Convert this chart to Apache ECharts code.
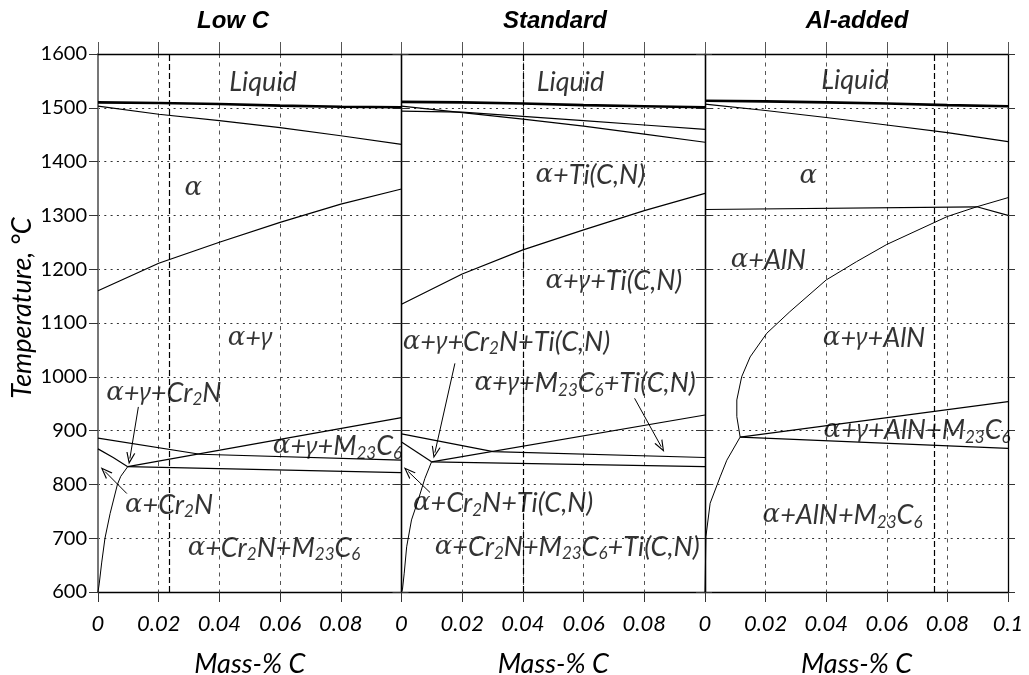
<!DOCTYPE html>
<html><head><meta charset="utf-8">
<script src="https://cdn.jsdelivr.net/npm/echarts@6/dist/echarts.min.js"></script>
<style>html,body{margin:0;padding:0;background:#fff}#c{width:1029px;height:675px}</style>
</head><body><div id="c"></div>
<script>
// ---------- text ----------
const panelTitles = ['Low C', 'Standard', 'Al-added'];
const xAxisName = 'Mass-% C';
const yAxisName = 'Temperature, °C';
const xMin = 0, xMax = 0.1, xStep = 0.02;
const yMin = 600, yMax = 1600, yStep = 100;

// ---------- Low C ----------
const lowC_liquidus = [[0,1510],[0.02,1509],[0.04,1507],[0.06,1504],[0.08,1502],[0.1,1501]];
const lowC_solidus = [[0,1503],[0.02,1488],[0.04,1476],[0.06,1463],[0.08,1448],[0.1,1432]];
const lowC_gamma = [[0,1160],[0.02,1211],[0.04,1250],[0.06,1287],[0.08,1321],[0.1,1349]];
const lowC_cr2nUpper = [[0,886],[0.0336,856],[0.1,845]];
const lowC_m23Upper = [[0.0098,833],[0.1,924]];
const lowC_bottom = [[0.0098,833],[0.1,822]];
const lowC_cr2nLeft = [[0,866],[0.005,850],[0.0098,833]];
const lowC_alphaCr2n = [[0.0098,833],[0.0075,815],[0.0064,800],[0.004,746],[0.0023,700],[0.0012,654],[0.0004,615],[0,600]];
const lowC_composition = 0.0234;
const lowC_labels = [
  [0.0544,1548,'Liquid'],
  [0.0314,1350,'α'],
  [0.0501,1072,'α+γ'],
  [0.0217,970,'α+γ+Cr_2N'],
  [0.0789,870,'α+γ+M_23C_6'],
  [0.0234,762,'α+Cr_2N'],
  [0.058,682,'α+Cr_2N+M_23C_6']
];
const lowC_arrows = [
  [[0.0133,944],[0.0105,848]],
  [[0.0095,783],[0.0023,824]]
];

// ---------- Standard ----------
const std_liquidus = [[0,1511],[0.02,1510],[0.04,1508],[0.06,1505],[0.08,1503],[0.1,1501]];
const std_solidusA = [[0,1503],[0.02,1491],[0.04,1479],[0.06,1466],[0.08,1451],[0.1,1436]];
const std_solidusB = [[0,1494],[0.02,1492],[0.04,1484],[0.06,1476],[0.08,1468],[0.1,1460]];
const std_gamma = [[0,1135],[0.02,1191],[0.04,1236],[0.06,1273],[0.08,1309],[0.1,1341]];
const std_cr2nUpper = [[0,894],[0.0302,861],[0.1,850]];
const std_m23Upper = [[0.0099,842],[0.1,929]];
const std_bottom = [[0.0099,842],[0.1,833]];
const std_cr2nLeft = [[0,879],[0.0099,842]];
const std_alphaCr2n = [[0.0099,842],[0.0077,811],[0.0055,771],[0.0033,734],[0.0017,684],[0.0009,635],[0.0003,604],[0,600]];
const std_composition = 0.04;
const std_labels = [
  [0.0557,1548,'Liquid'],
  [0.0622,1375,'α+Ti(C,N)'],
  [0.07,1177,'α+γ+Ti(C,N)'],
  [0.0346,1065,'α+γ+Cr_2N+Ti(C,N)'],
  [0.0605,988,'α+γ+M_23C_6+Ti(C,N)'],
  [0.0335,765,'α+Cr_2N+Ti(C,N)'],
  [0.0546,684,'α+Cr_2N+M_23C_6+Ti(C,N)']
];
const std_arrows = [
  [[0.0176,1025],[0.011,859]],
  [[0.0768,960],[0.0856,870]],
  [[0.0094,785],[0.0022,824]]
];

// ---------- Al-added ----------
const al_liquidus = [[0,1513],[0.02,1512],[0.04,1510],[0.06,1508],[0.08,1505],[0.1,1503]];
const al_solidus = [[0,1507],[0.02,1495],[0.04,1482],[0.06,1468],[0.08,1454],[0.1,1437]];
const al_alnLine = [[0,1311],[0.0897,1316],[0.1,1300]];
const al_gammaCurve = [[0.1,1333],[0.0897,1316],[0.08,1298],[0.06,1246],[0.05,1214],[0.04,1180],[0.028,1121],[0.0204,1081],[0.0149,1037],[0.0121,1000],[0.0105,957],[0.0105,926],[0.0116,888],[0.0072,845],[0.005,814],[0.0017,765],[0.0003,703],[0,600]];
const al_m23Upper = [[0.0116,888],[0.1,954]];
const al_m23Lower = [[0.0116,888],[0.1,867]];
const al_composition = 0.0758;
const al_labels = [
  [0.0495,1552,'Liquid'],
  [0.0341,1372,'α'],
  [0.0209,1217,'α+AlN'],
  [0.0558,1072,'α+γ+AlN'],
  [0.07,901,'α+γ+AlN+M_23C_6'],
  [0.0454,743,'α+AlN+M_23C_6']
];
const al_arrows = [];

// ---------- layout / style ----------
const LBL = 27;
const INK = '#000';
const panels = [
  {left:98, width:303.5, titleX:233, lastLabel:false,
   lines:[[lowC_liquidus,2.6],[lowC_solidus,1.2],[lowC_gamma,1.2],[lowC_cr2nUpper,1.2],[lowC_m23Upper,1.2],[lowC_bottom,1.2],[lowC_cr2nLeft,1.2],[lowC_alphaCr2n,1]],
   comp:lowC_composition, labels:lowC_labels, arrows:lowC_arrows},
  {left:401.5, width:303.5, titleX:555, lastLabel:false,
   lines:[[std_liquidus,2.6],[std_solidusA,1.2],[std_solidusB,1.2],[std_gamma,1.2],[std_cr2nUpper,1.2],[std_m23Upper,1.2],[std_bottom,1.2],[std_cr2nLeft,1.2],[std_alphaCr2n,1]],
   comp:std_composition, labels:std_labels, arrows:std_arrows},
  {left:705, width:303, titleX:857, lastLabel:true,
   lines:[[al_liquidus,2.6],[al_solidus,1.2],[al_alnLine,1.2],[al_gammaCurve,1],[al_m23Upper,1.2],[al_m23Lower,1.2]],
   comp:al_composition, labels:al_labels, arrows:al_arrows}
];
const TOP = 54, HEIGHT = 538;

const rich = {
  nm:{fontFamily:'Lato', fontStyle:'italic', fontSize:LBL, color:INK},
  al:{fontFamily:'DejaVu Serif', fontStyle:'italic', fontSize:LBL-1, color:INK},
  ga:{fontFamily:'Noto Sans', fontStyle:'italic', fontSize:LBL-3, color:INK},
  sb:{fontFamily:'Lato', fontStyle:'italic', fontSize:Math.round(LBL*0.64), color:INK, padding:[Math.round(LBL*0.5),0,0,0]}
};
function toRich(s){
  let out='', buf='';
  const flush=()=>{ if(buf){ out+='{nm|'+buf+'}'; buf=''; } };
  for(let i=0;i<s.length;i++){
    const ch=s[i];
    if(ch==='_'){ flush(); let d=''; i++; while(i<s.length && /[0-9]/.test(s[i])){ d+=s[i]; i++; } i--; out+='{sb|'+d+'}'; }
    else if(ch==='α'){ flush(); out+='{al|α}'; }
    else if(ch==='γ'){ flush(); out+='{ga|γ}'; }
    else buf+=ch;
  }
  flush();
  return out;
}
function fmtX(v){ const r=Math.round(v*100)/100; return r===0?'0':String(r); }
const ARROW = 'path://M0,12 L5,0 L10,12 L8.7,12 L5,3.2 L1.3,12 Z';

const grids=[], xAxes=[], yAxes=[], series=[], graphics=[];
panels.forEach((p,g)=>{
  grids.push({left:p.left, top:TOP, width:p.width, height:HEIGHT, containLabel:false, outerBoundsMode:'none'});
  xAxes.push({type:'value', gridIndex:g, min:xMin, max:xMax, interval:xStep, position:'bottom',
    axisLine:{show:true, onZero:false, lineStyle:{color:'#000', width:1.3}},
    axisTick:{show:true, inside:false, length:10, lineStyle:{color:'#333'}},
    axisLabel:{show:true, margin:21, fontFamily:'Lato', fontStyle:'italic', fontSize:22, color:INK,
      formatter:(v)=> (!p.lastLabel && Math.abs(v-xMax)<1e-9) ? '' : fmtX(v)},
    splitLine:{show:true, lineStyle:{type:[4,4.5], color:'#555', width:1}},
    name:xAxisName, nameLocation:'middle', nameGap:59,
    nameTextStyle:{fontFamily:'Lato', fontStyle:'italic', fontSize:27, color:INK}});
  xAxes.push({type:'value', gridIndex:g, min:xMin, max:xMax, interval:xStep, position:'top',
    axisLine:{show:true, onZero:false, lineStyle:{color:'#000', width:1.3}},
    axisTick:{show:true, inside:false, length:12, lineStyle:{color:'#555'}},
    axisLabel:{show:false}, splitLine:{show:false}});
  yAxes.push({type:'value', gridIndex:g, min:yMin, max:yMax, interval:yStep, position:'left',
    axisLine:{show:true, onZero:false, lineStyle:{color:g===0?'#777':'#000', width:g===0?2:1.3}},
    axisTick:{show:true, inside:false, length:9, lineStyle:{color:'#333'}},
    axisLabel:{show:g===0, margin:11, fontFamily:'Lato', fontSize:20, color:INK, formatter:(v)=>String(v)},
    splitLine:{show:true, lineStyle:{type:[2,4.3], color:'#333', width:1}}});
  yAxes.push({type:'value', gridIndex:g, min:yMin, max:yMax, interval:yStep, position:'right',
    axisLine:{show:true, onZero:false, lineStyle:{color:'#000', width:1.3}},
    axisTick:{show:true, inside:false, length:7, lineStyle:{color:'#333'}},
    axisLabel:{show:false}, splitLine:{show:false}});
  const xi=2*g, yi=2*g;
  p.lines.forEach(([d,w])=>{
    series.push({type:'line', xAxisIndex:xi, yAxisIndex:yi, data:d, symbol:'none', showSymbol:false,
      lineStyle:{color:'#000', width:w}, silent:true, animation:false, z:3});
  });
  series.push({type:'line', xAxisIndex:xi, yAxisIndex:yi, data:[], silent:true, animation:false,
    markLine:{silent:true, animation:false, precision:6, symbol:['none','none'], label:{show:false},
      lineStyle:{type:[6,3], color:'#000', width:1.2}, emphasis:{disabled:true},
      data:[{xAxis:p.comp}]}});
  if(p.arrows.length){
    series.push({type:'line', xAxisIndex:xi, yAxisIndex:yi, data:[], silent:true, animation:false,
      markLine:{silent:true, animation:false, precision:6, symbol:['none',ARROW], symbolSize:[9,12], label:{show:false},
        lineStyle:{type:'solid', color:'#000', width:1}, emphasis:{disabled:true},
        data:p.arrows.map(a=>[{coord:a[0]},{coord:a[1]}])}});
  }
  const texts = p.labels.map(l=>toRich(l[2]));
  series.push({type:'scatter', xAxisIndex:xi, yAxisIndex:yi, symbolSize:1, silent:true, animation:false,
    itemStyle:{color:'rgba(0,0,0,0)'}, z:6,
    data:p.labels.map(l=>[l[0],l[1]]),
    label:{show:true, position:'inside', align:'center', verticalAlign:'middle', rich:rich,
      formatter:(prm)=>texts[prm.dataIndex]}});
  graphics.push({type:'text', x:p.titleX, y:21, silent:true,
    style:{text:panelTitles[g], font:'italic bold 24px "Liberation Sans"', fill:'#000',
      align:'center', verticalAlign:'middle', textAlign:'center', textVerticalAlign:'middle'}});
});
graphics.push({type:'text', x:22, y:308, rotation:Math.PI/2, silent:true,
  style:{text:yAxisName, font:'italic 27px Lato', fill:INK,
    align:'center', verticalAlign:'middle', textAlign:'center', textVerticalAlign:'middle'}});

const chart = echarts.init(document.getElementById('c'), null, {renderer:'canvas'});
chart.setOption({
  animation:false, backgroundColor:'#fff',
  grid:grids, xAxis:xAxes, yAxis:yAxes, series:series, graphic:graphics
});
</script></body></html>
